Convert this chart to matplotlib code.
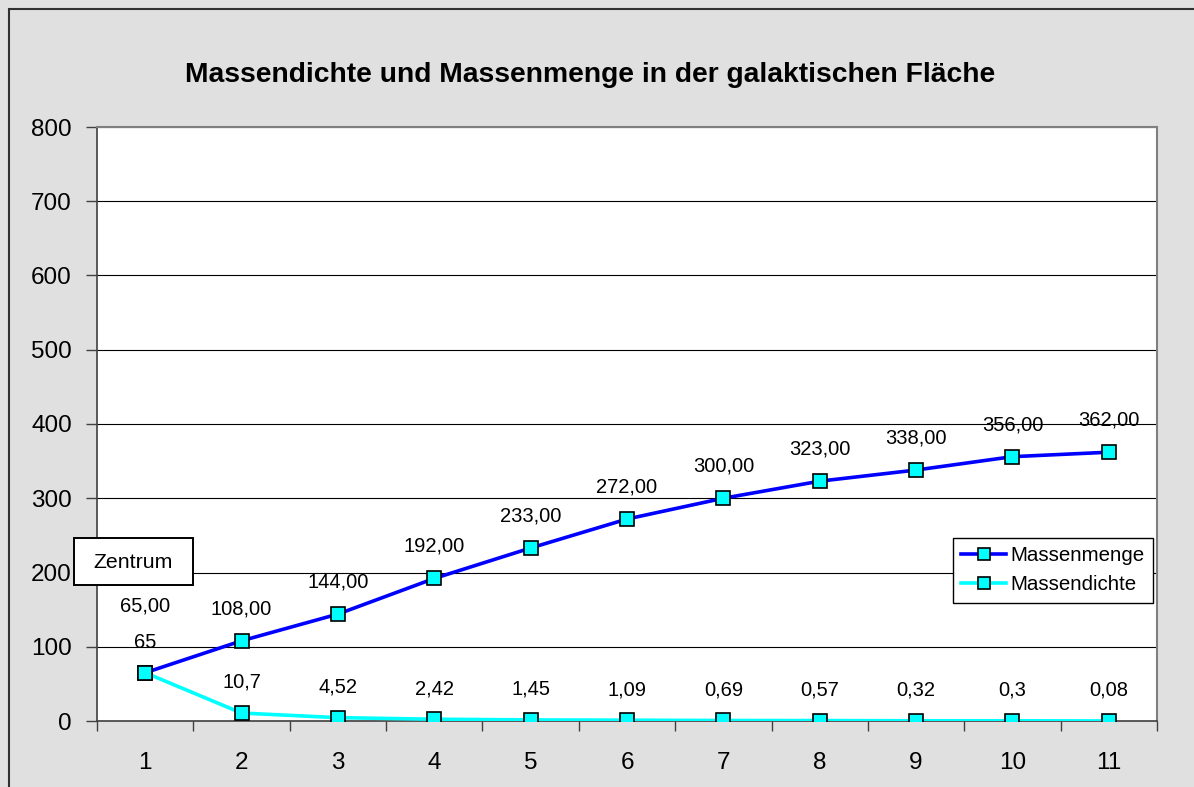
import numpy as np
import matplotlib.pyplot as plt
from matplotlib.patches import Rectangle

plt.rcParams["font.family"] = ["Liberation Sans", "DejaVu Sans"]

categories = ["1", "2", "3", "4", "5", "6", "7", "8", "9", "10", "11"]
massenmenge = [65, 108, 144, 192, 233, 272, 300, 323, 338, 356, 362]
massendichte = [65, 10.7, 4.52, 2.42, 1.45, 1.09, 0.69, 0.57, 0.32, 0.3, 0.08]
menge_labels = ["65,00", "108,00", "144,00", "192,00", "233,00", "272,00",
                "300,00", "323,00", "338,00", "356,00", "362,00"]
dichte_labels = ["65", "10,7", "4,52", "2,42", "1,45", "1,09",
                 "0,69", "0,57", "0,32", "0,3", "0,08"]

W, H = 1194, 787
bg = "#E0E0E0"
fig = plt.figure(figsize=(W / 100, H / 100), dpi=100, facecolor=bg)

# outer chart frame (only left/top visible in the crop)
fig.patches.append(Rectangle((9 / W, -0.1), 1.2, 1 - 9 / H + 0.1, transform=fig.transFigure,
                             facecolor="none", edgecolor="#303030", linewidth=1.5))

ax = fig.add_axes([97 / W, 1 - 721 / H, (1157 - 97) / W, (721 - 127) / H])
ax.set_facecolor("white")

x = np.arange(len(categories))
ax.plot(x, massenmenge, color="#0000FF", lw=2.6, marker="s", markersize=10.5,
        markerfacecolor="#00FFFF", markeredgecolor="black", markeredgewidth=1.2,
        label="Massenmenge", zorder=4)
ax.plot(x, massendichte, color="#00FFFF", lw=2.6, marker="s", markersize=10.5,
        markerfacecolor="#00FFFF", markeredgecolor="black", markeredgewidth=1.2,
        label="Massendichte", zorder=3)

for i, (xi, yi, s) in enumerate(zip(x, massenmenge, menge_labels)):
    # first label was dragged up in the original so it clears the "65"
    dy = 48 if i == 0 else 23
    ax.annotate(s, (xi, yi), xytext=(0, dy), textcoords="offset points",
                ha="center", va="center", fontsize=14.5, zorder=5)
for xi, yi, s in zip(x, massendichte, dichte_labels):
    ax.annotate(s, (xi, yi), xytext=(0, 22), textcoords="offset points",
                ha="center", va="center", fontsize=14.5, zorder=5)

ax.set_xlim(-0.5, len(categories) - 0.5)
ax.set_ylim(0, 800)
ax.set_yticks(np.arange(0, 801, 100))
ax.yaxis.grid(True, color="black", linewidth=0.8)
ax.set_axisbelow(True)

ax.set_xticks(x)
ax.set_xticklabels(categories, fontsize=17.5)
ax.set_xticks(np.arange(-0.5, len(categories)), minor=True)
ax.tick_params(axis="x", which="major", length=0, pad=22)
ax.tick_params(axis="x", which="minor", length=7, width=1, color="#404040", direction="out")
ax.tick_params(axis="y", labelsize=17.5, length=8, width=1, color="#404040", direction="out", pad=10)

for side in ["left", "bottom"]:
    ax.spines[side].set_color("#404040")
    ax.spines[side].set_linewidth(1.2)
for side in ["top", "right"]:
    ax.spines[side].set_color("#808080")
    ax.spines[side].set_linewidth(1.5)

leg = ax.legend(loc="upper left", bbox_to_anchor=(953 / W, 1 - 538 / H),
                bbox_transform=fig.transFigure, fontsize=14.8, frameon=True,
                fancybox=False, edgecolor="black", framealpha=1,
                handlelength=2.2, handletextpad=0.2, borderpad=0.4,
                labelspacing=0.5, borderaxespad=0, markerscale=0.85)
leg.get_frame().set_linewidth(1.0)
leg.set_zorder(6)

fig.text(590 / W, 1 - 75 / H, "Massendichte und Massenmenge in der galaktischen Fläche",
         ha="center", va="center", fontsize=20.3, fontweight="bold")

# "Zentrum" box
fig.patches.append(Rectangle((74 / W, 1 - 585 / H), 119 / W, 47 / H, transform=fig.transFigure,
                             facecolor="white", edgecolor="black", linewidth=1.4, zorder=7))
fig.text(133 / W, 1 - 562 / H, "Zentrum", ha="center", va="center", fontsize=15.3, zorder=8)

fig.savefig("out.png", dpi=100, facecolor=bg)
